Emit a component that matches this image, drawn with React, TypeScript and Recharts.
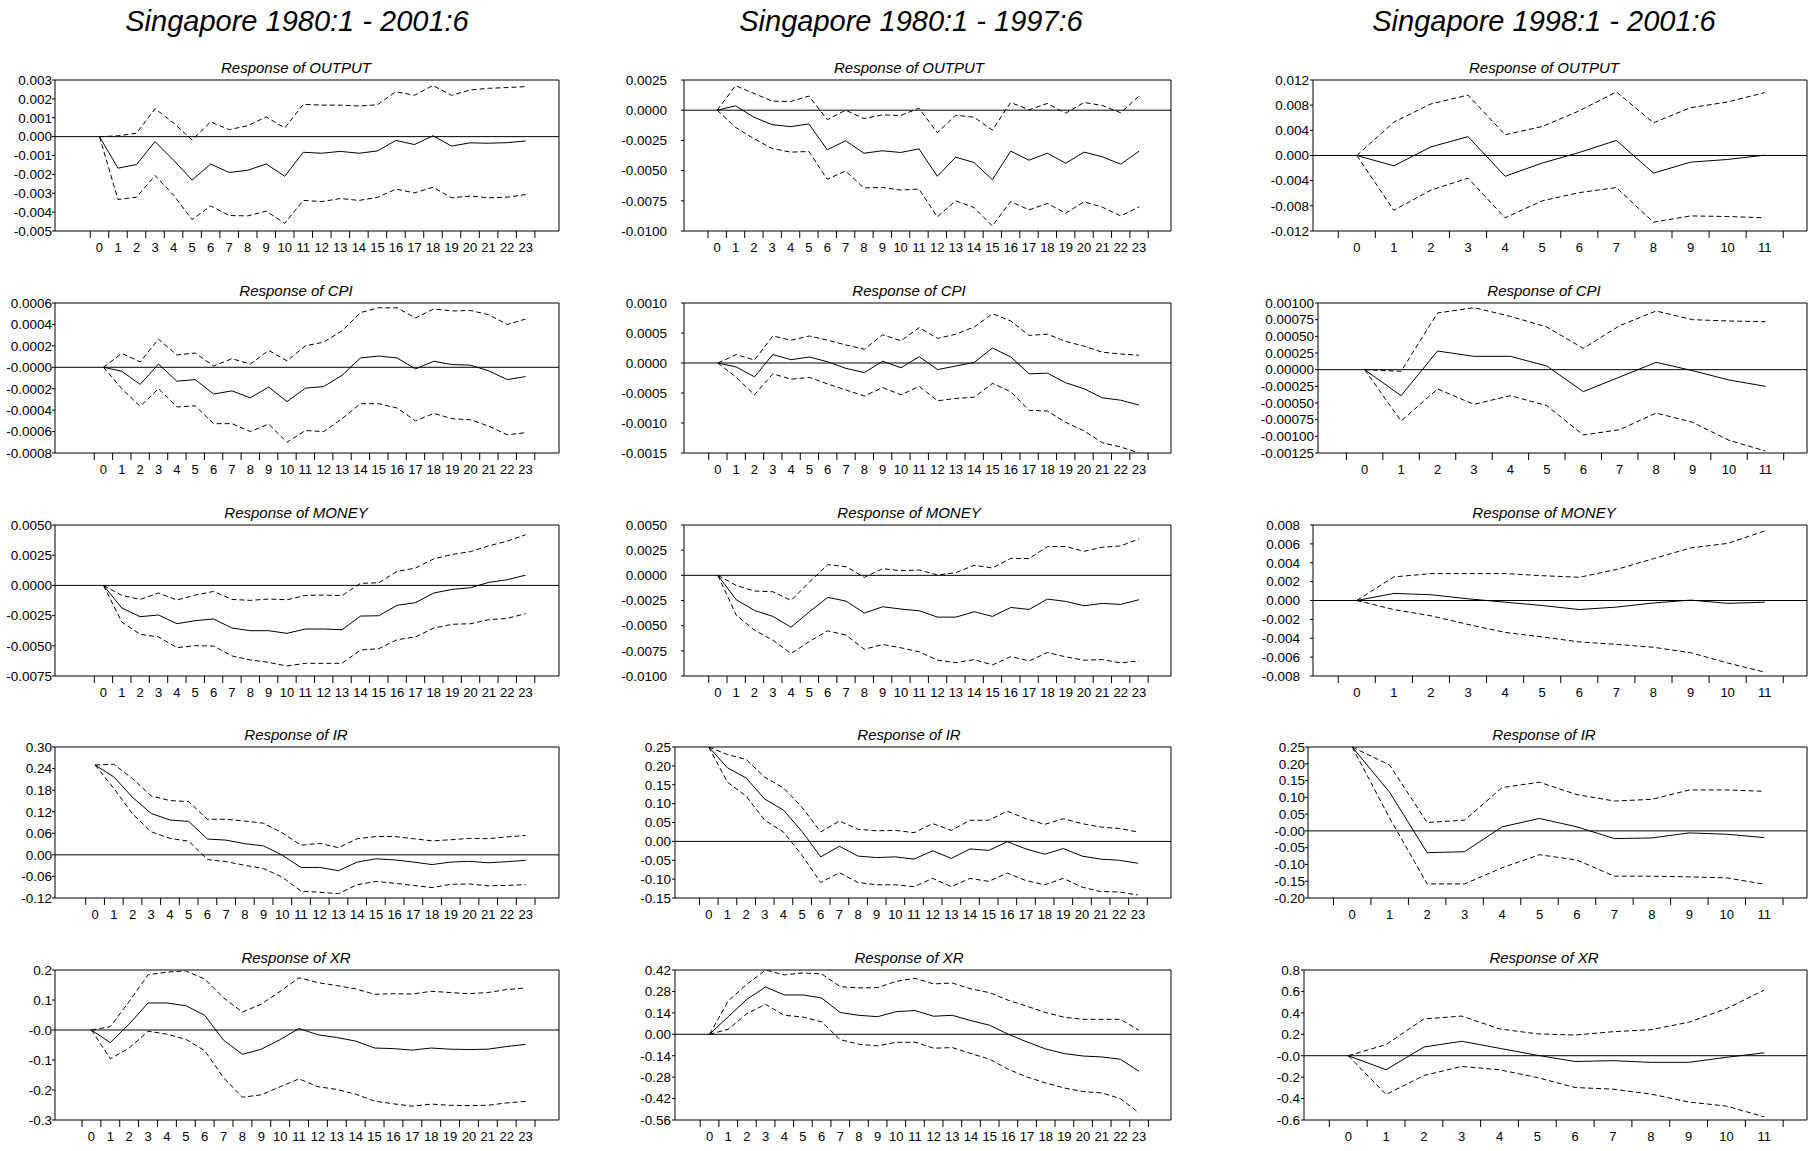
import React from 'react';
import { LineChart, Line, XAxis, YAxis, ReferenceLine } from 'recharts';

const horizons24 = [0, 1, 2, 3, 4, 5, 6, 7, 8, 9, 10, 11, 12, 13, 14, 15, 16, 17, 18, 19, 20, 21, 22, 23];
const horizons12 = [0, 1, 2, 3, 4, 5, 6, 7, 8, 9, 10, 11];

const periodTitles = ['Singapore 1980:1 - 2001:6', 'Singapore 1980:1 - 1997:6', 'Singapore 1998:1 - 2001:6'];

// ---- Singapore 1980:1 - 2001:6 ----
const fullOutputTicks = ['0.003', '0.002', '0.001', '0.000', '-0.001', '-0.002', '-0.003', '-0.004', '-0.005'];
const fullOutput = [0, -0.00167, -0.00148, -0.00026, -0.00125, -0.0023, -0.00145, -0.0019, -0.00178, -0.00145, -0.0021, -0.00083, -0.00088, -0.00078, -0.00088, -0.00076, -0.0002, -0.00042, 0.00005, -0.0005, -0.00033, -0.00035, -0.00032, -0.00023];
const fullOutputHi = [0, 0.00004, 0.00018, 0.00148, 0.00072, -0.00018, 0.00078, 0.00037, 0.00058, 0.00104, 0.00046, 0.00171, 0.00167, 0.00167, 0.00162, 0.00169, 0.00238, 0.00219, 0.00271, 0.00219, 0.00247, 0.00256, 0.0026, 0.00265];
const fullOutputLo = [0, -0.00333, -0.00321, -0.00206, -0.0031, -0.0044, -0.00367, -0.00418, -0.0042, -0.00395, -0.00459, -0.00338, -0.00344, -0.00328, -0.00338, -0.00322, -0.00278, -0.00298, -0.00268, -0.00324, -0.00315, -0.00324, -0.00321, -0.00307];

const fullCpiTicks = ['0.0006', '0.0004', '0.0002', '-0.0000', '-0.0002', '-0.0004', '-0.0006', '-0.0008'];
const fullCpi = [0, -0.000037, -0.00016, 0.00003, -0.00013, -0.000115, -0.00025, -0.00022, -0.000285, -0.000185, -0.00032, -0.000195, -0.00018, -0.000075, 0.000087, 0.000105, 0.000087, -0.000015, 0.000056, 0.000025, 0.00002, -0.000034, -0.000115, -0.000087];
const fullCpiHi = [0, 0.00013, 0.00005, 0.000263, 0.000115, 0.000133, 0.000012, 0.00008, 0.00003, 0.000158, 0.00006, 0.0002, 0.000235, 0.00034, 0.00051, 0.000555, 0.000555, 0.00046, 0.000545, 0.000526, 0.00053, 0.00049, 0.0004, 0.00045];
const fullCpiLo = [0, -0.0002, -0.000365, -0.0002, -0.00037, -0.00036, -0.000526, -0.000526, -0.0006, -0.00053, -0.0007, -0.00059, -0.0006, -0.00048, -0.00034, -0.00034, -0.00038, -0.0005, -0.00043, -0.00048, -0.00049, -0.00055, -0.00063, -0.00061];

const fullMoneyTicks = ['0.0050', '0.0025', '0.0000', '-0.0025', '-0.0050', '-0.0075'];
const fullMoney = [0, -0.00187, -0.00259, -0.00245, -0.00317, -0.00292, -0.00278, -0.00353, -0.00375, -0.00375, -0.00397, -0.00361, -0.00361, -0.00367, -0.00254, -0.00251, -0.00165, -0.00143, -0.00063, -0.00033, -0.00019, 0.00025, 0.00047, 0.00085];
const fullMoneyHi = [0, -0.00083, -0.00116, -0.00063, -0.00121, -0.0008, -0.0005, -0.00116, -0.00124, -0.00113, -0.00119, -0.00083, -0.0008, -0.00085, 0.00017, 0.00022, 0.00116, 0.00143, 0.0022, 0.00256, 0.0028, 0.00328, 0.00366, 0.00419];
const fullMoneyLo = [0, -0.00303, -0.00405, -0.00427, -0.00515, -0.00499, -0.00502, -0.00584, -0.00617, -0.00637, -0.00667, -0.00645, -0.00645, -0.00645, -0.00535, -0.00524, -0.00449, -0.00427, -0.00353, -0.00322, -0.00317, -0.00284, -0.00273, -0.00234];

const fullIrTicks = ['0.30', '0.24', '0.18', '0.12', '0.06', '0.00', '-0.06', '-0.12'];
const fullIr = [0.25, 0.217, 0.16, 0.115, 0.097, 0.093, 0.044, 0.041, 0.031, 0.025, -0.001, -0.035, -0.035, -0.044, -0.02, -0.011, -0.014, -0.02, -0.027, -0.02, -0.018, -0.022, -0.019, -0.015];
const fullIrHi = [0.25, 0.252, 0.212, 0.164, 0.151, 0.148, 0.099, 0.099, 0.094, 0.088, 0.061, 0.027, 0.032, 0.02, 0.045, 0.051, 0.051, 0.045, 0.039, 0.042, 0.046, 0.045, 0.05, 0.054];
const fullIrLo = [0.25, 0.185, 0.114, 0.064, 0.046, 0.038, -0.013, -0.019, -0.029, -0.038, -0.062, -0.101, -0.104, -0.108, -0.083, -0.074, -0.079, -0.085, -0.091, -0.082, -0.081, -0.086, -0.085, -0.083];

const fullXrTicks = ['0.2', '0.1', '-0.0', '-0.1', '-0.2', '-0.3'];
const fullXr = [0, -0.042, 0.02, 0.09, 0.09, 0.081, 0.049, -0.034, -0.081, -0.064, -0.032, 0.005, -0.016, -0.025, -0.037, -0.06, -0.062, -0.067, -0.06, -0.064, -0.065, -0.064, -0.055, -0.048];
const fullXrHi = [0, 0.011, 0.095, 0.184, 0.193, 0.197, 0.17, 0.107, 0.06, 0.086, 0.129, 0.174, 0.158, 0.148, 0.137, 0.119, 0.121, 0.12, 0.129, 0.125, 0.121, 0.125, 0.135, 0.14];
const fullXrLo = [0, -0.096, -0.06, -0.004, -0.014, -0.031, -0.069, -0.159, -0.224, -0.216, -0.189, -0.163, -0.189, -0.198, -0.214, -0.237, -0.246, -0.254, -0.247, -0.251, -0.252, -0.251, -0.243, -0.238];

// ---- Singapore 1980:1 - 1997:6 ----
const preOutputTicks = ['0.0025', '0.0000', '-0.0025', '-0.0050', '-0.0075', '-0.0100'];
const preOutput = [0, 0.00036, -0.00058, -0.0012, -0.00136, -0.00114, -0.00328, -0.00253, -0.00356, -0.00336, -0.0035, -0.0032, -0.00547, -0.00389, -0.00433, -0.00575, -0.00339, -0.00414, -0.00356, -0.00439, -0.00347, -0.00386, -0.00447, -0.00339];
const preOutputHi = [0, 0.00203, 0.00139, 0.00075, 0.00072, 0.00117, -0.00078, 0, -0.00069, -0.00039, -0.00044, 0.00017, -0.00186, -0.00042, -0.00058, -0.00164, 0.00064, 0.00003, 0.00056, -0.00025, 0.00064, 0.00039, -0.00022, 0.00117];
const preOutputLo = [0, -0.00142, -0.00236, -0.00317, -0.00347, -0.00342, -0.00572, -0.00503, -0.00644, -0.00639, -0.00661, -0.00653, -0.00883, -0.0075, -0.00806, -0.00958, -0.00756, -0.00825, -0.00772, -0.00853, -0.00758, -0.00803, -0.00875, -0.008];

const preCpiTicks = ['0.0010', '0.0005', '0.0000', '-0.0005', '-0.0010', '-0.0015'];
const preCpi = [0, -0.000066, -0.00023, 0.00014, 0.000055, 0.0001, 0.00002, -0.00009, -0.00016, 0.00003, -0.00008, 0.000105, -0.00011, -0.00005, 0.00001, 0.00025, 0.0001, -0.00018, -0.00017, -0.00033, -0.00043, -0.00058, -0.00062, -0.0007];
const preCpiHi = [0, 0.00014, 0.00005, 0.00045, 0.00038, 0.00045, 0.00038, 0.0003, 0.00023, 0.00047, 0.00037, 0.00059, 0.00041, 0.00048, 0.0006, 0.00082, 0.0007, 0.00046, 0.00048, 0.00036, 0.00028, 0.00018, 0.00015, 0.00013];
const preCpiLo = [0, -0.00024, -0.00053, -0.00018, -0.00027, -0.00024, -0.00035, -0.00045, -0.00055, -0.00041, -0.00053, -0.00039, -0.00063, -0.00059, -0.00057, -0.00034, -0.00048, -0.00079, -0.0008, -0.00099, -0.00113, -0.00133, -0.0014, -0.0015];

const preMoneyTicks = ['0.0050', '0.0025', '0.0000', '-0.0025', '-0.0050', '-0.0075', '-0.0100'];
const preMoney = [0, -0.00242, -0.00349, -0.00408, -0.00515, -0.00362, -0.00219, -0.00256, -0.00375, -0.00312, -0.00335, -0.00352, -0.00415, -0.00415, -0.00362, -0.00408, -0.00319, -0.00339, -0.00236, -0.00259, -0.00302, -0.00279, -0.00289, -0.00242];
const preMoneyHi = [0, -0.001, -0.00156, -0.00163, -0.00249, -0.00066, 0.00106, 0.00086, -0.0002, 0.00066, 0.00046, 0.00053, 0.00003, 0.00027, 0.001, 0.00073, 0.00169, 0.00166, 0.00286, 0.00286, 0.00239, 0.00279, 0.00292, 0.00362];
const preMoneyLo = [0, -0.00395, -0.00545, -0.00644, -0.00777, -0.00657, -0.00551, -0.00594, -0.00734, -0.00687, -0.0072, -0.0076, -0.00843, -0.00867, -0.00837, -0.0089, -0.00807, -0.0085, -0.00767, -0.0081, -0.00843, -0.00837, -0.0087, -0.0085];

const preIrTicks = ['0.25', '0.20', '0.15', '0.10', '0.05', '0.00', '-0.05', '-0.10', '-0.15'];
const preIr = [0.25, 0.195, 0.168, 0.112, 0.083, 0.026, -0.041, -0.013, -0.039, -0.043, -0.041, -0.047, -0.025, -0.045, -0.02, -0.024, -0.001, -0.02, -0.034, -0.019, -0.039, -0.047, -0.05, -0.058];
const preIrHi = [0.25, 0.23, 0.217, 0.17, 0.142, 0.09, 0.025, 0.054, 0.032, 0.028, 0.029, 0.023, 0.047, 0.029, 0.056, 0.056, 0.08, 0.06, 0.045, 0.06, 0.047, 0.038, 0.034, 0.025];
const preIrLo = [0.25, 0.157, 0.12, 0.056, 0.025, -0.037, -0.109, -0.083, -0.109, -0.115, -0.115, -0.12, -0.098, -0.12, -0.098, -0.106, -0.084, -0.104, -0.115, -0.098, -0.121, -0.133, -0.134, -0.142];

const preXrTicks = ['0.42', '0.28', '0.14', '0.00', '-0.14', '-0.28', '-0.42', '-0.56'];
const preXr = [0, 0.115, 0.229, 0.309, 0.257, 0.257, 0.237, 0.142, 0.124, 0.115, 0.148, 0.155, 0.118, 0.124, 0.089, 0.059, 0, -0.05, -0.096, -0.126, -0.142, -0.148, -0.163, -0.242];
const preXrHi = [0, 0.218, 0.327, 0.42, 0.388, 0.401, 0.394, 0.311, 0.303, 0.305, 0.346, 0.366, 0.329, 0.335, 0.296, 0.272, 0.222, 0.183, 0.142, 0.111, 0.098, 0.098, 0.098, 0.026];
const preXrLo = [0, 0.033, 0.135, 0.196, 0.124, 0.113, 0.081, -0.035, -0.065, -0.076, -0.052, -0.052, -0.091, -0.087, -0.126, -0.163, -0.229, -0.279, -0.318, -0.351, -0.374, -0.383, -0.42, -0.514];

// ---- Singapore 1998:1 - 2001:6 ----
const postOutputTicks = ['0.012', '0.008', '0.004', '0.000', '-0.004', '-0.008', '-0.012'];
const postOutput = [0, -0.00164, 0.00137, 0.003, -0.0033, -0.0012, 0.00048, 0.0024, -0.0028, -0.00106, -0.00063, 0.00005];
const postOutputHi = [0, 0.0053, 0.0082, 0.0096, 0.0033, 0.0046, 0.0071, 0.0101, 0.0052, 0.0076, 0.0085, 0.01];
const postOutputLo = [0, -0.0087, -0.0055, -0.0036, -0.0099, -0.0072, -0.0059, -0.0051, -0.0106, -0.0096, -0.0097, -0.0099];

const postCpiTicks = ['0.00100', '0.00075', '0.00050', '0.00025', '0.00000', '-0.00025', '-0.00050', '-0.00075', '-0.00100', '-0.00125'];
const postCpi = [0, -0.00039, 0.00028, 0.0002, 0.0002, 0.000055, -0.00033, -0.00011, 0.00011, -0.000015, -0.000155, -0.00025];
const postCpiHi = [0, -0.000025, 0.00085, 0.00093, 0.0008, 0.00064, 0.00032, 0.00066, 0.00088, 0.00075, 0.00073, 0.00072];
const postCpiLo = [0, -0.00077, -0.00029, -0.00052, -0.00039, -0.00054, -0.00098, -0.0009, -0.00065, -0.00079, -0.00106, -0.00122];

const postMoneyTicks = ['0.008', '0.006', '0.004', '0.002', '0.000', '-0.002', '-0.004', '-0.006', '-0.008'];
const postMoney = [0, 0.00075, 0.00061, 0.00018, -0.00018, -0.00053, -0.00096, -0.0007, -0.00026, 0.00004, -0.0003, -0.00018];
const postMoneyHi = [0, 0.0025, 0.00285, 0.00285, 0.00285, 0.00263, 0.00246, 0.00329, 0.00443, 0.00557, 0.00605, 0.00737];
const postMoneyLo = [0, -0.00096, -0.00162, -0.00254, -0.00338, -0.00386, -0.00439, -0.00465, -0.00496, -0.00553, -0.00662, -0.00759];

const postIrTicks = ['0.25', '0.20', '0.15', '0.10', '0.05', '-0.00', '-0.05', '-0.10', '-0.15', '-0.20'];
const postIr = [0.25, 0.115, -0.065, -0.062, 0.012, 0.037, 0.012, -0.023, -0.021, -0.006, -0.01, -0.02];
const postIrHi = [0.25, 0.196, 0.025, 0.032, 0.129, 0.145, 0.108, 0.089, 0.094, 0.122, 0.122, 0.118];
const postIrLo = [0.25, 0.038, -0.158, -0.158, -0.11, -0.071, -0.087, -0.135, -0.135, -0.137, -0.14, -0.159];

const postXrTicks = ['0.8', '0.6', '0.4', '0.2', '-0.0', '-0.2', '-0.4', '-0.6'];
const postXr = [0, -0.131, 0.081, 0.135, 0.069, 0.004, -0.054, -0.046, -0.062, -0.062, -0.015, 0.027];
const postXrHi = [0, 0.104, 0.343, 0.37, 0.25, 0.204, 0.193, 0.224, 0.243, 0.312, 0.439, 0.613];
const postXrLo = [0, -0.362, -0.185, -0.1, -0.131, -0.204, -0.297, -0.312, -0.358, -0.432, -0.47, -0.57];

const FONT = '"Liberation Sans", Arial, sans-serif';

// plot rectangles (page px): rows share top/bottom, columns share right edge
const rowTops = [80, 303, 525, 747, 970];
const rowBottoms = [231, 453, 676, 898, 1120];
const colRights = [559, 1171, 1807];
const colTitleX = [296, 909, 1544];
const headerX = [297, 911, 1544];

const panels = [
  // col 0
  { col: 0, row: 0, title: 'Response of OUTPUT', h: horizons24, mid: fullOutput, hi: fullOutputHi, lo: fullOutputLo, ticks: fullOutputTicks, left: 55, labelRight: 52, xd: [-2.4, 24.8] },
  { col: 0, row: 1, title: 'Response of CPI', h: horizons24, mid: fullCpi, hi: fullCpiHi, lo: fullCpiLo, ticks: fullCpiTicks, left: 55, labelRight: 52, xd: [-2.64, 24.82] },
  { col: 0, row: 2, title: 'Response of MONEY', h: horizons24, mid: fullMoney, hi: fullMoneyHi, lo: fullMoneyLo, ticks: fullMoneyTicks, left: 55, labelRight: 52, xd: [-2.64, 24.82] },
  { col: 0, row: 3, title: 'Response of IR', h: horizons24, mid: fullIr, hi: fullIrHi, lo: fullIrLo, ticks: fullIrTicks, left: 55, labelRight: 52, xd: [-2.14, 24.78] },
  { col: 0, row: 4, title: 'Response of XR', h: horizons24, mid: fullXr, hi: fullXrHi, lo: fullXrLo, ticks: fullXrTicks, left: 55, labelRight: 52, xd: [-1.93, 24.77] },
  // col 1
  { col: 1, row: 0, title: 'Response of OUTPUT', h: horizons24, mid: preOutput, hi: preOutputHi, lo: preOutputLo, ticks: preOutputTicks, left: 684, labelRight: 667, xd: [-1.81, 24.74] },
  { col: 1, row: 1, title: 'Response of CPI', h: horizons24, mid: preCpi, hi: preCpiHi, lo: preCpiLo, ticks: preCpiTicks, left: 684, labelRight: 667, xd: [-1.85, 24.75] },
  { col: 1, row: 2, title: 'Response of MONEY', h: horizons24, mid: preMoney, hi: preMoneyHi, lo: preMoneyLo, ticks: preMoneyTicks, left: 684, labelRight: 667, xd: [-1.85, 24.75] },
  { col: 1, row: 3, title: 'Response of IR', h: horizons24, mid: preIr, hi: preIrHi, lo: preIrLo, ticks: preIrTicks, left: 675, labelRight: 671, xd: [-1.81, 24.77] },
  { col: 1, row: 4, title: 'Response of XR', h: horizons24, mid: preXr, hi: preXrHi, lo: preXrLo, ticks: preXrTicks, left: 675, labelRight: 671, xd: [-1.85, 24.71] },
  // col 2
  { col: 2, row: 0, title: 'Response of OUTPUT', h: horizons12, mid: postOutput, hi: postOutputHi, lo: postOutputLo, ticks: postOutputTicks, left: 1313, labelRight: 1309, xd: [-1.18, 12.14] },
  { col: 2, row: 1, title: 'Response of CPI', h: horizons12, mid: postCpi, hi: postCpiHi, lo: postCpiLo, ticks: postCpiTicks, left: 1318, labelRight: 1314, xd: [-1.28, 12.14] },
  { col: 2, row: 2, title: 'Response of MONEY', h: horizons12, mid: postMoney, hi: postMoneyHi, lo: postMoneyLo, ticks: postMoneyTicks, left: 1313, labelRight: 1300, xd: [-1.18, 12.14] },
  { col: 2, row: 3, title: 'Response of IR', h: horizons12, mid: postIr, hi: postIrHi, lo: postIrLo, ticks: postIrTicks, left: 1308, labelRight: 1306, xd: [-1.18, 12.14] },
  { col: 2, row: 4, title: 'Response of XR', h: horizons12, mid: postXr, hi: postXrHi, lo: postXrLo, ticks: postXrTicks, left: 1304, labelRight: 1300, xd: [-1.17, 12.13] },
];

const Y_AXIS_W = 80;
const TOP_PAD = 10;
const X_AXIS_H = 30;
const Y_TICK = 3;

function XTick(props: any) {
  const { x, y, payload, index, half } = props;
  const axisY = y - 12;
  return (
    <g>
      <text x={x} y={y} dy="0.71em" textAnchor="middle" fontSize={13} fontFamily={FONT} fill="#000">
        {payload.value}
      </text>
      {index === 0 && <line x1={x - half} x2={x - half} y1={axisY} y2={axisY + 7} stroke="#000" />}
      <line x1={x + half} x2={x + half} y1={axisY} y2={axisY + 7} stroke="#000" />
    </g>
  );
}

function Panel({ p }: { p: any }) {
  const top = rowTops[p.row];
  const bottom = rowBottoms[p.row];
  const right = colRights[p.col];
  const plotW = right - p.left;
  const plotH = bottom - top;
  const data = p.h.map((h: number, i: number) => ({ h, mid: p.mid[i], hi: p.hi[i], lo: p.lo[i] }));
  const tickVals = p.ticks.map((t: string) => Number(t));
  const yMin = Math.min(...tickVals);
  const yMax = Math.max(...tickVals);
  const half = plotW / (p.xd[1] - p.xd[0]) / 2;
  const labelFor = (v: number) => {
    const k = tickVals.findIndex((t: number) => Math.abs(t - v) < 1e-9);
    return k >= 0 ? p.ticks[k] : String(v);
  };
  const gap = p.left - p.labelRight;
  return (
    <>
      <div
        style={{
          position: 'absolute',
          left: colTitleX[p.col],
          top: top - 13.5,
          transform: 'translate(-50%, -50%)',
          fontFamily: FONT,
          fontStyle: 'italic',
          fontSize: 15,
          lineHeight: 1,
          whiteSpace: 'nowrap',
          color: '#000',
        }}
      >
        {p.title}
      </div>
      <div style={{ position: 'absolute', left: p.left - Y_AXIS_W, top: top - TOP_PAD }}>
        <LineChart
          width={Y_AXIS_W + plotW + 2}
          height={TOP_PAD + plotH + X_AXIS_H}
          data={data}
          margin={{ top: TOP_PAD, right: 2, left: 0, bottom: 0 }}
        >
          <XAxis
            dataKey="h"
            type="number"
            domain={p.xd}
            ticks={p.h}
            interval={0}
            allowDataOverflow
            height={X_AXIS_H}
            tickSize={7}
            tickMargin={5}
            tickLine={false}
            axisLine={{ stroke: '#000', strokeWidth: 1 }}
            tick={(tp: any) => <XTick {...tp} half={half} />}
          />
          <YAxis
            type="number"
            domain={[yMin, yMax]}
            ticks={tickVals}
            interval={0}
            allowDataOverflow
            width={Y_AXIS_W}
            tickSize={Y_TICK}
            tickMargin={Math.max(0, gap - Y_TICK)}
            tickLine={{ stroke: '#000' }}
            axisLine={{ stroke: '#000', strokeWidth: 1 }}
            tick={{ fontSize: 13.5, fontFamily: FONT, fill: '#000' }}
            tickFormatter={labelFor}
          />
          <ReferenceLine y={yMax} stroke="#000" strokeWidth={1} />
          <ReferenceLine x={p.xd[1]} stroke="#000" strokeWidth={1} />
          <ReferenceLine y={0} stroke="#000" strokeWidth={1} />
          <Line type="linear" dataKey="hi" stroke="#000" strokeWidth={1} strokeDasharray="5 3" dot={false} isAnimationActive={false} />
          <Line type="linear" dataKey="lo" stroke="#000" strokeWidth={1} strokeDasharray="5 3" dot={false} isAnimationActive={false} />
          <Line type="linear" dataKey="mid" stroke="#000" strokeWidth={1} dot={false} isAnimationActive={false} />
        </LineChart>
      </div>
    </>
  );
}

export default function App() {
  return (
    <div
      style={{
        position: 'absolute',
        left: 0,
        top: 0,
        width: 1809,
        height: 1151,
        overflow: 'hidden',
        background: '#fff',
      }}
    >
      {periodTitles.map((t, i) => (
        <div
          key={t}
          style={{
            position: 'absolute',
            left: headerX[i],
            top: 21,
            transform: 'translate(-50%, -50%)',
            fontFamily: FONT,
            fontStyle: 'italic',
            fontSize: 29,
            lineHeight: 1,
            whiteSpace: 'nowrap',
            color: '#000',
          }}
        >
          {t}
        </div>
      ))}
      {panels.map((p) => (
        <Panel key={`${p.col}-${p.row}`} p={p} />
      ))}
    </div>
  );
}
